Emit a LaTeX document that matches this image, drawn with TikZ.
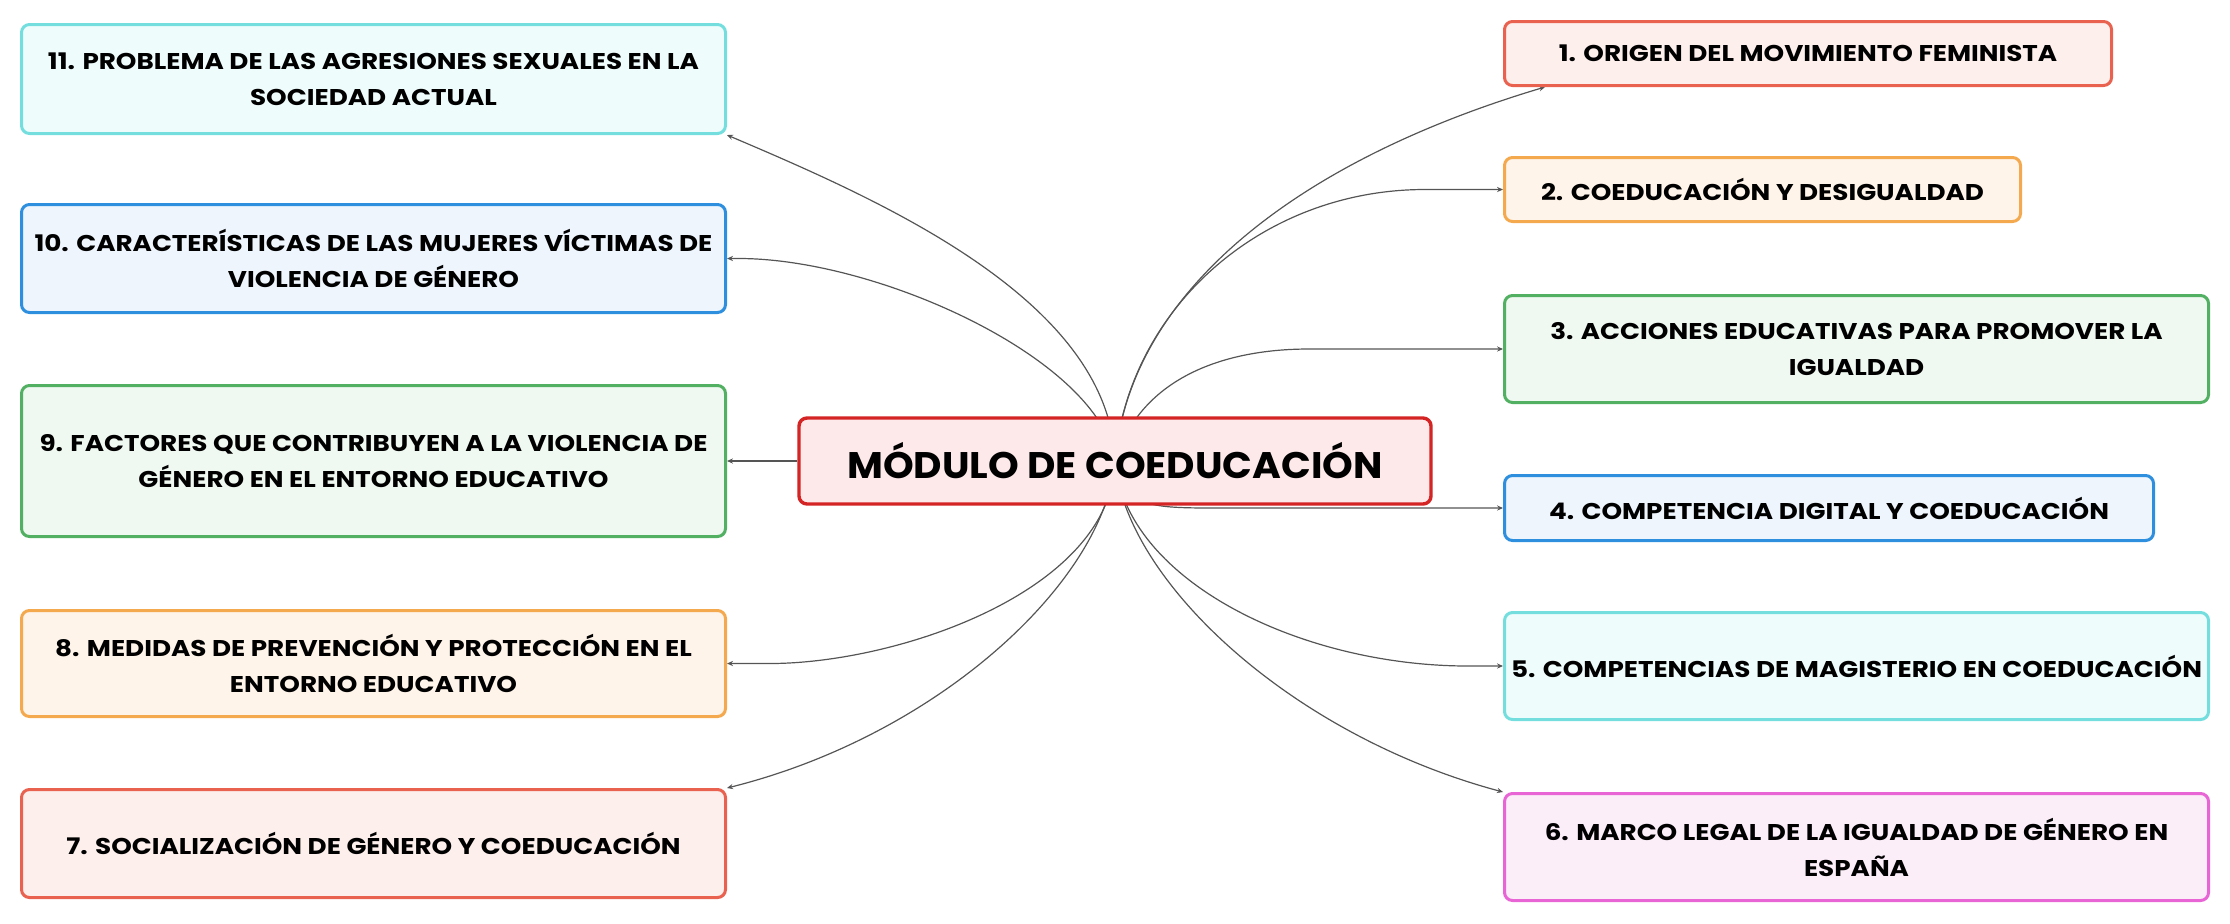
\documentclass[tikz,border=0pt]{standalone}
\usepackage{fontspec}
\setmainfont{Poppins}
\newfontfamily\topicfont{Poppins}[FakeStretch=1.15]
\newfontfamily\rootfont{Poppins}[FakeStretch=1.056]
\usetikzlibrary{arrows.meta,backgrounds,calc}
\definecolor{cRedB}{HTML}{E9614F}\definecolor{cRedF}{HTML}{FDEFEC}
\definecolor{cOrB}{HTML}{F4A94E}\definecolor{cOrF}{HTML}{FEF4EA}
\definecolor{cGrB}{HTML}{52B062}\definecolor{cGrF}{HTML}{EFF8F1}
\definecolor{cBlB}{HTML}{2E8FDE}\definecolor{cBlF}{HTML}{EEF5FD}
\definecolor{cCyB}{HTML}{74DEDE}\definecolor{cCyF}{HTML}{EFFCFC}
\definecolor{cMaB}{HTML}{E865D5}\definecolor{cMaF}{HTML}{FBEEF9}
\definecolor{cRootB}{HTML}{D42424}\definecolor{cRootF}{HTML}{FDE9EA}
\definecolor{cLine}{HTML}{555555}
\begin{document}
\begin{tikzpicture}[x=0.5pt,y=-0.5pt,
  topic/.style={rounded corners=4pt, line width=1.5pt, align=center, inner sep=0pt,
    font=\topicfont\fontsize{11.4}{18}\selectfont\bfseries, text=black},
  wide/.style={minimum width=352pt},
  redbox/.style={topic, draw=cRedB, fill=cRedF},
  orbox/.style={topic, draw=cOrB, fill=cOrF},
  grbox/.style={topic, draw=cGrB, fill=cGrF},
  blbox/.style={topic, draw=cBlB, fill=cBlF},
  cybox/.style={topic, draw=cCyB, fill=cCyF},
  mabox/.style={topic, draw=cMaB, fill=cMaF},
  rootbox/.style={rounded corners=4pt, line width=1.7pt, draw=cRootB, fill=cRootF,
    inner sep=0pt, minimum width=316pt, minimum height=43pt,
    font=\rootfont\fontsize{18.5}{22}\selectfont\bfseries},
  conn/.style={draw=cLine, line width=0.6pt, -{Stealth[length=3pt,width=2.6pt]}}
]
\useasboundingbox (0,0) rectangle (2230,923);

\node[rootbox] (root) at (1115,461) {MÓDULO DE COEDUCACIÓN};

\node[redbox, minimum width=303.5pt, minimum height=32pt] (n1) at (1808,53.5) {1. ORIGEN DEL MOVIMIENTO FEMINISTA};
\node[orbox, minimum width=258pt, minimum height=32pt] (n2) at (1762.5,189.5) {2. COEDUCACIÓN Y DESIGUALDAD};
\node[grbox, wide, minimum height=53.5pt] (n3) at (1856.5,349) {3. ACCIONES EDUCATIVAS PARA PROMOVER LA\\IGUALDAD};
\node[blbox, minimum width=324.5pt, minimum height=32.5pt] (n4) at (1829,508) {4. COMPETENCIA DIGITAL Y COEDUCACIÓN};
\node[cybox, wide, minimum height=53.5pt] (n5) at (1856.5,666) {5. COMPETENCIAS DE MAGISTERIO EN COEDUCACIÓN};
\node[mabox, wide, minimum height=53.5pt] (n6) at (1856.5,847) {6. MARCO LEGAL DE LA IGUALDAD DE GÉNERO EN\\ESPAÑA};

\node[redbox, wide, minimum height=54pt] (n7) at (373.5,843.5) {7. SOCIALIZACIÓN DE GÉNERO Y COEDUCACIÓN};
\node[orbox, wide, minimum height=53pt] (n8) at (373.5,663.5) {8. MEDIDAS DE PREVENCIÓN Y PROTECCIÓN EN EL\\ENTORNO EDUCATIVO};
\node[grbox, wide, minimum height=75.5pt] (n9) at (373.5,461) {9. FACTORES QUE CONTRIBUYEN A LA VIOLENCIA DE\\GÉNERO EN EL ENTORNO EDUCATIVO};
\node[blbox, wide, minimum height=54pt] (n10) at (373.5,258.5) {10. CARACTERÍSTICAS DE LAS MUJERES VÍCTIMAS DE\\VIOLENCIA DE GÉNERO};
\node[cybox, wide, minimum height=54.5pt] (n11) at (373.5,79) {11. PROBLEMA DE LAS AGRESIONES SEXUALES EN LA\\SOCIEDAD ACTUAL};

\begin{scope}[on background layer]
\draw[conn] (root.center) .. controls (1130,290) and (1300,160) .. ($(n1.south west)+(42,0)$);
\draw[conn] (root.center) .. controls (1128,310) and (1260,190) .. ($(n2.west)+(-79,0)$) -- (n2.west);
\draw[conn] (root.center) .. controls (1140,380) and (1220,349) .. ($(n3.west)+(-194,0)$) -- (n3.west);
\draw[conn] (root.center) .. controls (1125,508) and (1150,508) .. ($(n4.west)+(-283,0)$) -- (n4.west);
\draw[conn] (root.center) .. controls (1125,580) and (1300,666) .. ($(n5.west)+(-35,0)$) -- (n5.west);
\draw[conn] (root.center) .. controls (1125,580) and (1290,735) .. (n6.north west);
\draw[conn] (root.center) .. controls (1105,580) and (940,735) .. (n7.north east);
\draw[conn] (root.center) .. controls (1112,590) and (900,663) .. ($(n8.east)+(44,0)$) -- (n8.east);
\draw[conn] (root.west) -- (n9.east);
\draw[conn] (root.center) .. controls (1100,360) and (880,259) .. ($(n10.east)+(13,0)$) -- (n10.east);
\draw[conn] (root.center) .. controls (1110,300) and (880,200) .. (n11.south east);
\end{scope}
\end{tikzpicture}
\end{document}
